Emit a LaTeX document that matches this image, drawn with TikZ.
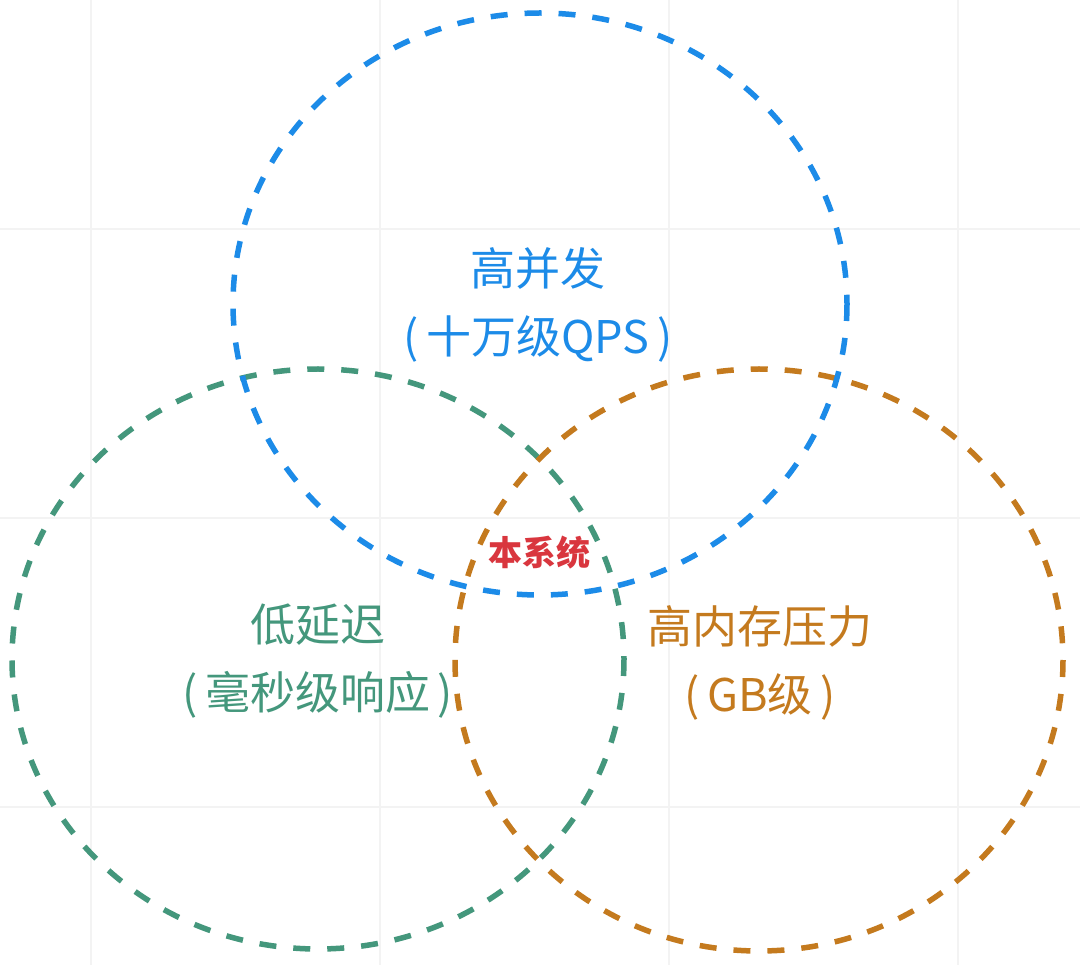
\documentclass[tikz,border=0pt]{standalone}
\usepackage{fontspec}
\newfontfamily\cjk{Noto Sans CJK SC}
\definecolor{cblue}{HTML}{1C8BE8}
\definecolor{cgreen}{HTML}{44977C}
\definecolor{corange}{HTML}{C47A1E}
\definecolor{cred}{HTML}{D9363E}
\definecolor{cgrid}{HTML}{F3F3F3}
\tikzset{
  ring/.style={line width=5.5pt, dash pattern=on 17pt off 17pt},
  biglabel/.style={font=\cjk\fontsize{45}{68}\selectfont, align=center, inner sep=0pt},
  corelabel/.style={font=\cjk\bfseries\fontsize{34}{40}\selectfont, text=cred, inner sep=0pt}
}
\begin{document}
\begin{tikzpicture}[x=1pt,y=-1pt]
\useasboundingbox (0,0) rectangle (1080,965);
\fill[white] (0,0) rectangle (1080,965);
% faint grid
\foreach \gx in {91,380,669,958} \draw[cgrid, line width=1.2pt] (\gx,0) -- (\gx,965);
\foreach \gy in {229,518,807} \draw[cgrid, line width=1.2pt] (0,\gy) -- (1080,\gy);
% circles
\draw[ring, cgreen] (318,659) ellipse [x radius=306, y radius=290];
\draw[ring, corange] (759,660) ellipse [x radius=304, y radius=291];
\draw[ring, cblue] (540,304) ellipse [x radius=307, y radius=291];
% labels
\node[biglabel, text=cblue] (hc) at (538,305) {高并发\\(\,十万级QPS\,)};
\node[biglabel, text=cgreen] (ll) at (318,661) {低延迟\\(\,毫秒级响应\,)};
\node[biglabel, text=corange] (hm) at (760,663) {高内存压力\\(\,GB级\,)};
\node[corelabel] (core) at (539,553) {本系统};
\end{tikzpicture}
\end{document}
